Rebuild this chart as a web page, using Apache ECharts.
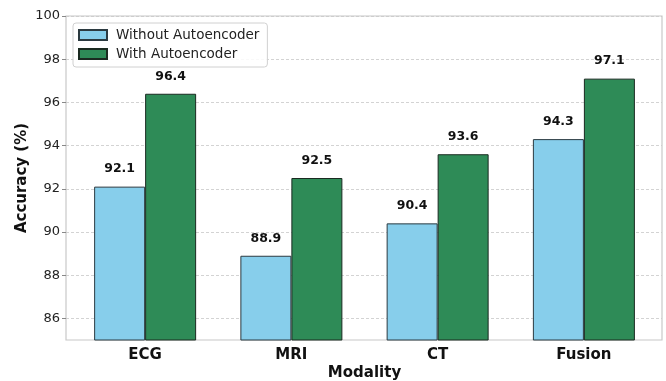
<!DOCTYPE html>
<html><head><meta charset="utf-8">
<script src="https://cdn.jsdelivr.net/npm/echarts@6/dist/echarts.min.js"></script>
<style>html,body{margin:0;padding:0;background:#fff}#c{width:666px;height:381px}</style>
</head><body><div id="c"></div>
<script>
const categories = ['ECG', 'MRI', 'CT', 'Fusion'];
const withoutAE = [92.1, 88.9, 90.4, 94.3];
const withAE = [96.4, 92.5, 93.6, 97.1];
const yTicks = [86, 88, 90, 92, 94, 96, 98, 100];
const seriesNames = ['Without Autoencoder', 'With Autoencoder'];

const font = 'DejaVu Sans';
const chart = echarts.init(document.getElementById('c'), null, {renderer: 'canvas'});
const labelStyle = {show: true, position: 'top', distance: 11, fontFamily: font, fontWeight: 'bold', fontSize: 12.5, color: '#111', formatter: p => p.value.toFixed(1)};
chart.setOption({
  animation: false,
  grid: [
    {left: 66, right: 4, top: 16, bottom: 41, outerBoundsMode: 'none', containLabel: false, show: true, borderColor: '#c8c8c8', borderWidth: 1.2, backgroundColor: 'transparent'},
    {left: 72, right: 9, top: 16, bottom: 41, outerBoundsMode: 'none', containLabel: false}
  ],
  legend: {
    left: 73, top: 23, orient: 'vertical', itemWidth: 28, itemHeight: 10, itemGap: 5, icon: 'rect',
    padding: [5, 8, 6, 5], borderColor: '#d0d0d0', borderWidth: 1, borderRadius: 3, backgroundColor: 'rgba(255,255,255,0.85)',
    textStyle: {fontFamily: font, fontSize: 13.5, color: '#222', padding: [0, 0, 0, 4]},
    data: seriesNames
  },
  xAxis: [
    {gridIndex: 0, type: 'category', data: categories, show: false},
    {gridIndex: 1, type: 'category', data: categories,
     axisLine: {show: false}, axisTick: {show: false},
     axisLabel: {fontFamily: font, fontWeight: 'bold', fontSize: 15, color: '#111', margin: 8},
     name: 'Modality', nameLocation: 'middle', nameGap: 26, nameMoveOverlap: false,
     nameTextStyle: {fontFamily: font, fontWeight: 'bold', fontSize: 15, color: '#111'}},
  ],
  yAxis: [
    {gridIndex: 0, type: 'value', min: 85, max: 100,
     axisLine: {show: false},
     axisTick: {show: true, length: 4, customValues: yTicks, lineStyle: {color: '#888'}},
     axisLabel: {customValues: yTicks, fontFamily: font, fontSize: 13, color: '#222', margin: 6},
     splitLine: {show: true, lineStyle: {color: '#c8c8c8', type: [3, 2], width: 0.8}},
     name: 'Accuracy (%)', nameLocation: 'middle', nameGap: 36, nameMoveOverlap: false,
     nameTextStyle: {fontFamily: font, fontWeight: 'bold', fontSize: 15, color: '#111'}},
    {gridIndex: 1, type: 'value', min: 85, max: 100, show: false, splitLine: {show: false}}
  ],
  series: [
    {name: seriesNames[0], type: 'bar', xAxisIndex: 1, yAxisIndex: 1, data: withoutAE, barWidth: 51, barGap: '0%',
     itemStyle: {color: '#87CEEB', borderColor: '#2b3a40', borderWidth: 1}, label: labelStyle},
    {name: seriesNames[1], type: 'bar', xAxisIndex: 1, yAxisIndex: 1, data: withAE, barWidth: 51, barGap: '0%',
     itemStyle: {color: '#2E8B57', borderColor: '#1a2a20', borderWidth: 1}, label: labelStyle}
  ]
});
</script></body></html>
